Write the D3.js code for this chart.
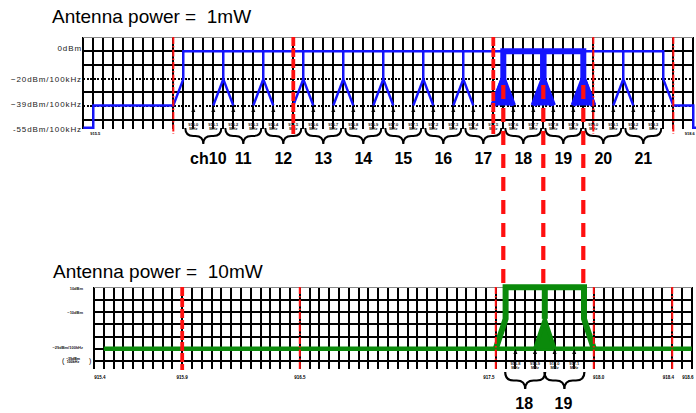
<!DOCTYPE html>
<html>
<head>
<meta charset="utf-8">
<script src="https://cdnjs.cloudflare.com/ajax/libs/d3/7.8.5/d3.min.js"></script>
<style>
  body { margin: 0; background: #fff; }
  text { font-family: "Liberation Sans", Arial, sans-serif; }
</style>
</head>
<body>
<svg width="696" height="413"></svg>
<script>
// ---- top chart (1mW) data: columns are grid units, levels in dBm ----
var channelsTop   = ["ch10", "11", "12", "13", "14", "15", "16", "17", "18", "19", "20", "21"];
var chCentersTop  = [12, 16, 20, 24, 28, 32, 36, 40, 44, 48, 52, 56];
var peaksTop      = [14, 18, 22, 26, 30, 34, 38, 42, 46, 50, 54];
var arrowFreqTop  = ["916.0", "916.1", "916.2", "916.3", "916.4", "916.5", "916.6", "916.7",
                     "916.8", "916.9", "917.0", "917.1", "917.2", "917.3", "917.4", "917.5",
                     "917.6", "917.7", "917.8", "917.9", "918.0", "918.1", "918.2", "918.3"];
var maskTop       = [[0, -55], [1, -55], [1, -39], [9, -39], [10, -20], [10, 0], [58, 0],
                     [58, -20], [59, -39], [61, -39], [61, -55], [61.3, -55]];
var bondTop       = [[41, -39], [42, -20], [42, 0], [50, 0], [50, -20], [51, -39]];
var bondPeaksTop  = [42, 46, 50];
var levelsTop     = [{t: "0dBm", db: 0, dy: -3}, {t: "\u221220dBm/100kHz", db: -20, dy: 0},
                     {t: "\u221239dBm/100kHz", db: -39, dy: -1}, {t: "-55dBm/100kHz", db: -55, dy: 1}];
var redTop        = [{col: 9, heavy: false}, {col: 21, heavy: true}, {col: 41, heavy: true},
                     {col: 51, heavy: false}, {col: 59, heavy: false}];
var edgeFreqTop   = [{col: 1.2, t: "915.5", anchor: "middle"}, {col: 61.15, t: "918.6", anchor: "end"}];
var linkCols      = [42, 46, 50];

// ---- bottom chart (10mW) data ----
var channelsBottom  = ["18", "19"];
var chCentersBottom = [44, 48];
var arrowFreqBottom = ["916.8", "916.9", "917.0", "917.1"];
var maskBottom      = [[41, -29], [42, -10], [42, 10], [50, 10], [50, -10], [51, -29]];
var baseBottom      = [[1, -29], [61, -29]];
var peaksBottom     = [46];
var levelsBottom    = [{t: "10dBm", y: 288}, {t: "\u221210dBm", y: 312}, {t: "\u221229dBm/100kHz", y: 347}];
var redBottom       = [{col: 9, heavy: true}, {col: 21, heavy: false}, {col: 41, heavy: false},
                       {col: 51, heavy: false}, {col: 59, heavy: false}];
var edgeFreqBottom  = [{col: 0.6, t: "915.4"}, {col: 9, t: "915.9"}, {col: 21, t: "916.5"},
                       {col: 40.3, t: "917.5"}, {col: 51.5, t: "918.0"}, {col: 58.6, t: "918.4"},
                       {col: 60.6, t: "918.6"}];

var svg = d3.select("svg");
var blue = "#1414ff", green = "#0b8a0b", red = "#ff1010";

var xT = d3.scaleLinear().domain([0, 61]).range([83.3, 693.3]);
var yT = d3.scaleLinear().domain([0, -55]).range([51.3, 127.8]);
var rowT = d3.scaleLinear().domain([0, 6]).range([37.3, 120]);
var xB = d3.scaleLinear().domain([0, 61]).range([94, 691.8]);
var yB = d3.scaleLinear().domain([10, -29]).range([287.3, 348.8]);
var rowB = d3.scaleLinear().domain([0, 6]).range([287.3, 361.1]);

function drawGrid(g, x, row, yEnd, dotted) {
  g.selectAll("line.v").data(d3.range(0, 62)).enter().append("line")
    .attr("x1", d => x(d)).attr("x2", d => x(d))
    .attr("y1", row(0)).attr("y2", yEnd)
    .attr("stroke", "#000").attr("stroke-width", 2).attr("shape-rendering", "crispEdges");
  g.selectAll("line.h").data(d3.range(0, 7)).enter().append("line")
    .attr("x1", x(0)).attr("x2", x(61))
    .attr("y1", d => row(d)).attr("y2", d => row(d))
    .attr("stroke", d => d == 0 ? "#888" : "#000")
    .attr("stroke-width", d => d == 0 ? 1.5 : 2)
    .attr("shape-rendering", "crispEdges")
    .attr("stroke-dasharray", d => dotted.indexOf(d) >= 0 ? "2 1.5" : null);
}

function bracePath(x0, x1, y, h) {
  var xm = (x0 + x1) / 2, r = h / 2;
  return "M" + x0 + "," + y + " Q" + x0 + "," + (y + r) + " " + (x0 + r) + "," + (y + r) +
    " L" + (xm - r) + "," + (y + r) + " Q" + xm + "," + (y + r) + " " + xm + "," + (y + h) +
    " Q" + xm + "," + (y + r) + " " + (xm + r) + "," + (y + r) +
    " L" + (x1 - r) + "," + (y + r) + " Q" + x1 + "," + (y + r) + " " + x1 + "," + y;
}

function arrows(g, xs, y0, y1, labels, ly) {
  xs.forEach(function (xx, i) {
    g.append("line").attr("x1", xx).attr("x2", xx).attr("y1", y1).attr("y2", y0 + 3)
      .attr("stroke", "#000").attr("stroke-width", 1.2);
    g.append("path").attr("d", "M" + (xx - 2) + "," + (y0 + 5) + " L" + xx + "," + y0 + " L" + (xx + 2) + "," + (y0 + 5) + "Z")
      .attr("fill", "#000");
    var t = g.append("text").attr("x", xx).attr("y", ly).attr("text-anchor", "middle")
      .attr("font-size", 4).attr("font-weight", "bold").attr("fill", "#222");
    t.append("tspan").attr("x", xx).text(labels[i]);
    t.append("tspan").attr("x", xx).attr("dy", 4.2).text("MHz");
  });
}

function redLines(g, list, x, y1, y2) {
  g.selectAll("line.red").data(list).enter().append("line")
    .attr("x1", d => x(d.col)).attr("x2", d => x(d.col))
    .attr("y1", y1).attr("y2", y2)
    .attr("stroke", red)
    .attr("stroke-width", d => d.heavy ? 3.8 : 2)
    .attr("stroke-dasharray", d => d.heavy ? "9 2" : "7 2 1.5 2");
}

// ================= TOP =================
var gTop = svg.append("g");
gTop.append("text").attr("x", 52).attr("y", 23).attr("font-size", 19)
  .style("white-space", "pre").text("Antenna power =  1mW");

drawGrid(gTop, xT, rowT, 128.5, [3, 5]);

gTop.selectAll("text.lv").data(levelsTop).enter().append("text")
  .attr("x", 82).attr("y", d => yT(d.db) + 2.8 + d.dy).attr("text-anchor", "end")
  .attr("font-size", 8).attr("letter-spacing", 0.9).attr("fill", "#222").text(d => d.t);

var lineT = d3.line().x(d => xT(d[0])).y(d => yT(d[1]));

gTop.append("path").attr("d", lineT(maskTop)).attr("fill", "none")
  .attr("stroke", blue).attr("stroke-width", 2.4);
peaksTop.forEach(function (p) {
  gTop.append("path").attr("d", lineT([[p, 0], [p, -20]])).attr("stroke", blue).attr("stroke-width", 2.4);
  gTop.append("path").attr("d", lineT([[p - 1, -39], [p, -20], [p + 1, -39]])).attr("fill", "none")
    .attr("stroke", blue).attr("stroke-width", 2.4);
});

// bonded ch18+19 mask (heavy)
gTop.append("path").attr("d", lineT(bondTop)).attr("fill", "none")
  .attr("stroke", blue).attr("stroke-width", 6).attr("stroke-linejoin", "miter");
bondPeaksTop.forEach(function (p) {
  gTop.append("path").attr("d", lineT([[p - 1, -39], [p, -20], [p + 1, -39]]))
    .attr("fill", blue).attr("stroke", blue).attr("stroke-width", 5.5);
});
gTop.append("path").attr("d", lineT([[46, 0], [46, -20]])).attr("stroke", blue).attr("stroke-width", 6.5);

arrows(gTop, chCentersTop.flatMap(c => [xT(c - 1), xT(c + 1)]), 107, 120, arrowFreqTop, 126);

gTop.selectAll("path.br").data(chCentersTop).enter().append("path")
  .attr("d", c => bracePath(xT(c) - 18, xT(c) + 18, 128, 16))
  .attr("fill", "none").attr("stroke", "#000").attr("stroke-width", 2);

gTop.selectAll("text.ch").data(channelsTop).enter().append("text")
  .attr("x", (d, i) => xT(chCentersTop[i]) + (i == 0 ? 5 : 0)).attr("y", 164)
  .attr("text-anchor", "middle").attr("font-size", 16).attr("font-weight", "bold")
  .text(d => d);

gTop.selectAll("text.ef").data(edgeFreqTop).enter().append("text")
  .attr("x", d => xT(d.col)).attr("y", 135).attr("text-anchor", d => d.anchor)
  .attr("font-size", 4).attr("font-weight", "bold").text(d => d.t);

redLines(gTop, redTop, xT, 37, 134);

// ================= BOTTOM =================
var gBot = svg.append("g");
gBot.append("text").attr("x", 53).attr("y", 278).attr("font-size", 19)
  .style("white-space", "pre").text("Antenna power =  10mW");

drawGrid(gBot, xB, rowB, 368.5, []);

gBot.selectAll("text.lv").data(levelsBottom).enter().append("text")
  .attr("x", 83).attr("y", d => d.y + 1.5).attr("text-anchor", "end")
  .attr("font-size", 4).attr("font-weight", "bold").attr("fill", "#222").text(d => d.t);
gBot.append("text").attr("x", 62).attr("y", 362.5).attr("font-size", 7).text("(");
var pt = gBot.append("text").attr("x", 73).attr("y", 359.5).attr("text-anchor", "middle")
  .attr("font-size", 3.6).attr("font-weight", "bold");
pt.append("tspan").attr("x", 73).text("\u221239dBm");
pt.append("tspan").attr("x", 73).attr("dy", 3.6).text("100kHz");
gBot.append("text").attr("x", 89).attr("y", 362.5).attr("font-size", 7).text(")");

var lineB = d3.line().x(d => xB(d[0])).y(d => yB(d[1]));

gBot.append("path").attr("d", lineB(baseBottom)).attr("fill", "none")
  .attr("stroke", green).attr("stroke-width", 4.5);
gBot.append("path").attr("d", lineB(maskBottom)).attr("fill", "none")
  .attr("stroke", green).attr("stroke-width", 6);
peaksBottom.forEach(function (p) {
  gBot.append("path").attr("d", lineB([[p, 10], [p, -10]])).attr("stroke", green).attr("stroke-width", 6);
  gBot.append("path").attr("d", lineB([[p - 1, -29], [p, -10], [p + 1, -29]]))
    .attr("fill", green).attr("stroke", green).attr("stroke-width", 4);
});

arrows(gBot, chCentersBottom.flatMap(c => [xB(c - 1), xB(c + 1)]), 349, 361, arrowFreqBottom, 364.5);

gBot.selectAll("path.br").data(chCentersBottom).enter().append("path")
  .attr("d", c => bracePath(xB(c) - 20, xB(c) + 20, 372, 17))
  .attr("fill", "none").attr("stroke", "#000").attr("stroke-width", 2.2);

gBot.selectAll("text.ch").data(channelsBottom).enter().append("text")
  .attr("x", (d, i) => xB(chCentersBottom[i]) - 1).attr("y", 409)
  .attr("text-anchor", "middle").attr("font-size", 16).attr("font-weight", "bold")
  .text(d => d);

gBot.selectAll("text.ef").data(edgeFreqBottom).enter().append("text")
  .attr("x", d => xB(d.col)).attr("y", 379).attr("text-anchor", "middle")
  .attr("font-size", 4.5).attr("font-weight", "bold").text(d => d.t);

redLines(gBot, redBottom, xB, 287, 370);

// links from the top bonded mask down to the 10mW chart
svg.selectAll("line.link").data(linkCols).enter().append("line")
  .attr("x1", d => xT(d)).attr("x2", d => xT(d))
  .attr("y1", 85).attr("y2", 286)
  .attr("stroke", red).attr("stroke-width", 4.2).attr("stroke-dasharray", "14 9");
</script>
</body>
</html>
